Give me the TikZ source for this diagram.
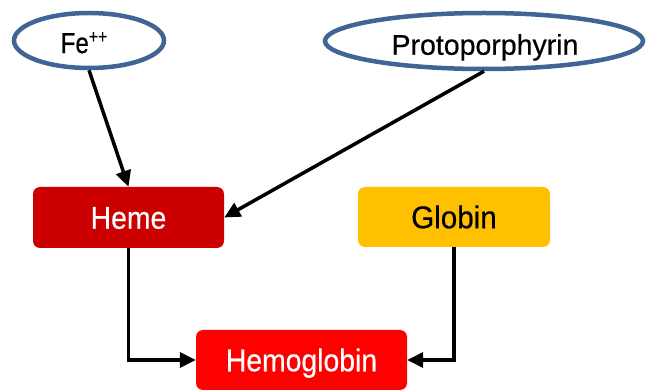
\documentclass[tikz,border=0pt]{standalone}
\usepackage{fontspec}
\usepackage{graphicx}
\setmainfont{Liberation Sans}
\newfontfamily\labelfamily{Liberation Sans}[FakeBold=0.5]
\usetikzlibrary{shapes.geometric,arrows.meta}

\definecolor{ringblue}{RGB}{64,100,148}
\definecolor{hemered}{RGB}{204,0,0}
\definecolor{globinamber}{RGB}{255,192,0}
\definecolor{hbred}{RGB}{255,0,0}

\newcommand{\boxfont}{\labelfamily\fontsize{31.5}{31.5}\selectfont}
\newcommand{\narrow}[2]{\scalebox{#1}[1]{#2}}

\begin{document}
\begin{tikzpicture}[x=1pt,y=-1pt,
  ring/.style={ellipse, draw=ringblue, line width=4.5pt, inner sep=0pt},
  ringtext/.style={inner sep=0pt, text height=20.5pt, text depth=0pt},
  block/.style={rounded corners=7pt, inner sep=0pt, text height=22.5pt,
                text depth=0pt, font=\boxfont},
  link/.style={line width=3.5pt, -{Triangle[length=16pt,width=15pt]}}]
\useasboundingbox (0,0) rectangle (646,390);

% precursors
\node[ring, minimum width=150pt, minimum height=55pt,
      label={[ringtext, xshift=-5pt, yshift=-2.3pt,
              font={\labelfamily\fontsize{29}{29}\selectfont}]center:{\narrow{0.83}{Fe\raisebox{10pt}{\fontsize{19}{19}\selectfont ++}}}}]
      (fe) at (89,40.5) {};
\node[ring, minimum width=318pt, minimum height=56pt,
      label={[ringtext, xshift=1pt, yshift=-3.5pt,
              font={\labelfamily\fontsize{28.5}{28.5}\selectfont}]center:{Protoporphyrin}}]
      (proto) at (484,41) {};

% products
\node[block, fill=hemered, text=white, minimum width=191pt, minimum height=61pt]
      (heme) at (128.5,217.5) {\narrow{0.9}{Heme}};
\node[block, fill=globinamber, text=black, minimum width=192pt, minimum height=60pt]
      (globin) at (454,217) {\narrow{0.94}{Globin}};
\node[block, fill=hbred, text=white, minimum width=211pt, minimum height=60pt]
      (hb) at (301.5,360) {\narrow{0.9}{Hemoglobin}};

% connectors
\draw[link] (fe.south) -- (heme.north);
\draw[link] (proto.south) -- (heme.east);
\draw[link] (heme.south) |- (hb.west);
\draw[link] (globin.south) |- (hb.east);
\end{tikzpicture}
\end{document}
